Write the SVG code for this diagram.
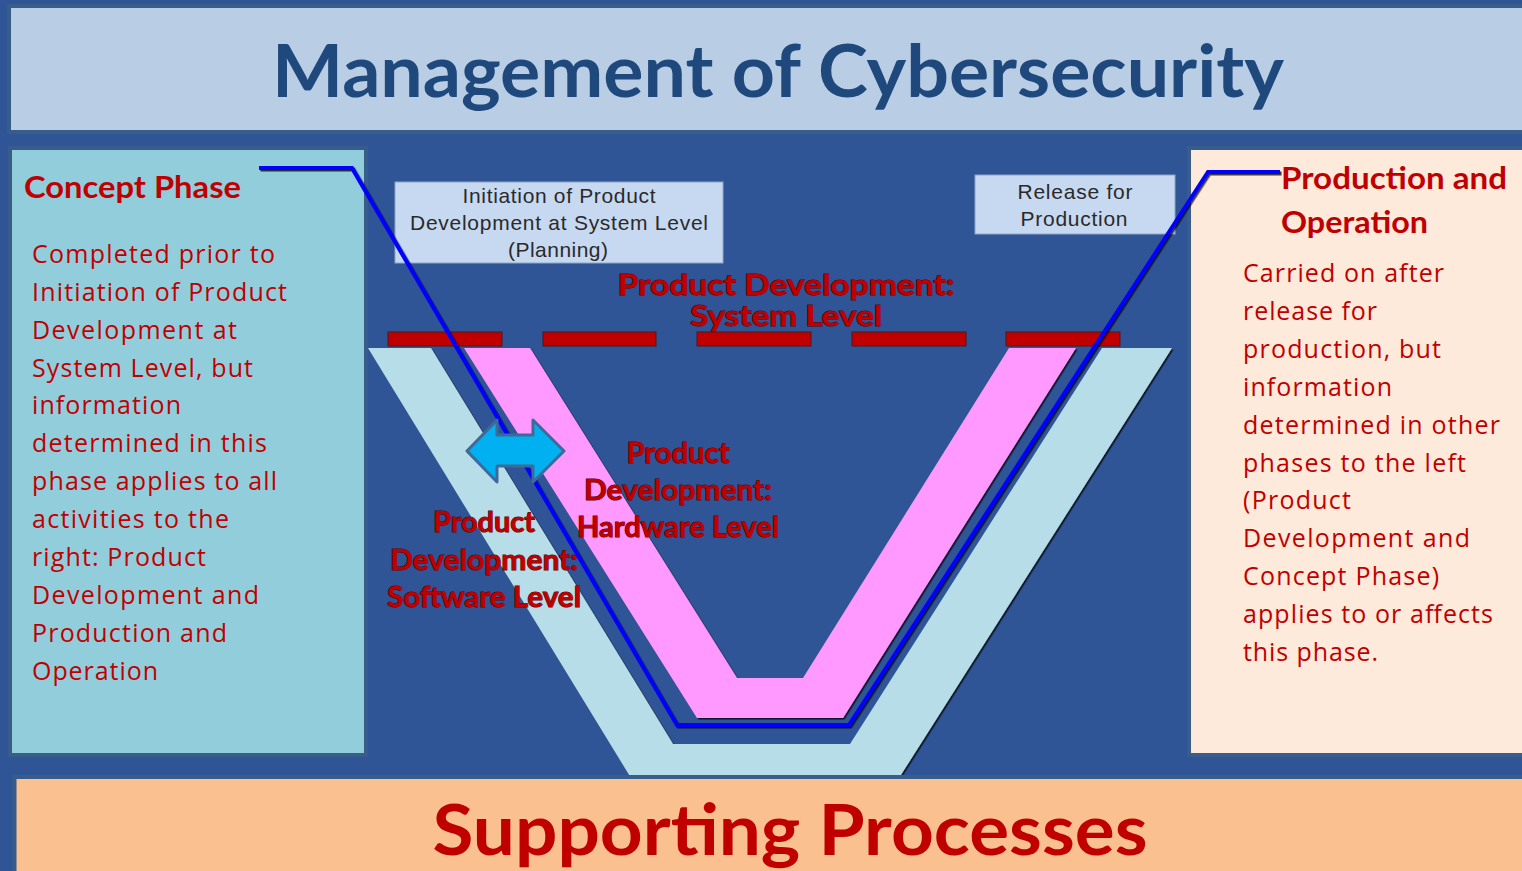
<svg xmlns="http://www.w3.org/2000/svg" width="1522" height="871" viewBox="0 0 1522 871">
  <defs>
    <style>
      .panel { stroke: #385D8A; stroke-width: 4; }
      .body { font-family: "Open Sans", "Noto Sans", sans-serif; font-size: 25px; fill: #C00000; }
      .head { font-family: Lato, "Open Sans", sans-serif; font-weight: 700; font-size: 30px; fill: #C00000; }
      .vlabel { font-family: Lato, "Open Sans", sans-serif; font-weight: 700; font-size: 28px; fill: #C00000; stroke: #5A0000; stroke-width: 1; paint-order: stroke; text-anchor: middle; }
      .boxtxt { font-family: "Liberation Sans", Arial, sans-serif; font-size: 21px; fill: #2A2A2A; text-anchor: middle; }
      .dash { fill: #C00000; stroke: #4A1A1A; stroke-width: 1; }
      .milestone { fill: #C6D9F1; stroke: #8FA6C4; stroke-width: 1; }
    </style>
    <filter id="shade" x="-5%" y="-5%" width="110%" height="110%">
      <feDropShadow dx="1.5" dy="1.5" stdDeviation="0.6" flood-color="#000000" flood-opacity="0.75"/>
    </filter>
  </defs>

  <!-- page background -->
  <rect x="0" y="0" width="1522" height="871" fill="#2F5597"/>

  <!-- title banner -->
  <g id="title">
    <rect class="panel" x="9" y="6" width="1520" height="126" fill="#B9CDE5"/>
    <text x="778" y="97" text-anchor="middle" textLength="1012" lengthAdjust="spacingAndGlyphs"
          font-family="Lato, 'Open Sans', sans-serif" font-weight="700" font-size="72" fill="#1F497D">Management of Cybersecurity</text>
  </g>

  <!-- concept phase panel -->
  <g id="concept-phase">
    <rect class="panel" x="10" y="148" width="356" height="607" fill="#92CDDC"/>
    <text class="head" x="24" y="198" textLength="217" lengthAdjust="spacingAndGlyphs">Concept Phase</text>
    <text class="body" x="32" y="263" textLength="243">Completed prior to</text>
    <text class="body" x="32" y="301" textLength="255">Initiation of Product</text>
    <text class="body" x="32" y="339" textLength="205">Development at</text>
    <text class="body" x="32" y="377" textLength="221">System Level, but</text>
    <text class="body" x="32" y="414" textLength="149">information</text>
    <text class="body" x="32" y="452" textLength="235">determined in this</text>
    <text class="body" x="32" y="490" textLength="245">phase applies to all</text>
    <text class="body" x="32" y="528" textLength="197">activities to the</text>
    <text class="body" x="32" y="566" textLength="174">right: Product</text>
    <text class="body" x="32" y="604" textLength="227">Development and</text>
    <text class="body" x="32" y="642" textLength="195">Production and</text>
    <text class="body" x="32" y="680" textLength="126">Operation</text>
  </g>

  <!-- production and operation panel -->
  <g id="production-operation">
    <rect class="panel" x="1189" y="148" width="340" height="607" fill="#FDEADA"/>
    <text class="head" x="1281" y="189" textLength="226" lengthAdjust="spacingAndGlyphs">Production and</text>
    <text class="head" x="1281" y="233" textLength="147" lengthAdjust="spacingAndGlyphs">Operation</text>
    <text class="body" x="1243" y="282" textLength="201">Carried on after</text>
    <text class="body" x="1243" y="320" textLength="134">release for</text>
    <text class="body" x="1243" y="358" textLength="198">production, but</text>
    <text class="body" x="1243" y="396" textLength="149">information</text>
    <text class="body" x="1243" y="434" textLength="257">determined in other</text>
    <text class="body" x="1243" y="472" textLength="223">phases to the left</text>
    <text class="body" x="1243" y="509" textLength="108">(Product</text>
    <text class="body" x="1243" y="547" textLength="227">Development and</text>
    <text class="body" x="1243" y="585" textLength="196">Concept Phase)</text>
    <text class="body" x="1243" y="623" textLength="250">applies to or affects</text>
    <text class="body" x="1243" y="661" textLength="135">this phase.</text>
  </g>

  <!-- software level V band -->
  <g id="software-level">
    <polygon points="368,348 431,348 673,744 850,744 1102,348 1172,348 899,778 631,778" fill="#B7DDE8" filter="url(#shade)"/>
    <text class="vlabel" x="484" y="532" textLength="102" lengthAdjust="spacingAndGlyphs">Product</text>
    <text class="vlabel" x="484" y="570" textLength="188" lengthAdjust="spacingAndGlyphs">Development:</text>
    <text class="vlabel" x="484" y="607" textLength="194" lengthAdjust="spacingAndGlyphs">Software Level</text>
  </g>

  <!-- hardware level V band -->
  <g id="hardware-level">
    <polygon points="464,348 530,348 737,678 803,678 1009,348 1076,348 843,718 697,718" fill="#FF99FF" filter="url(#shade)"/>
    <text class="vlabel" x="678" y="463" textLength="103" lengthAdjust="spacingAndGlyphs">Product</text>
    <text class="vlabel" x="678" y="500" textLength="188" lengthAdjust="spacingAndGlyphs">Development:</text>
    <text class="vlabel" x="678" y="537" textLength="202" lengthAdjust="spacingAndGlyphs">Hardware Level</text>
  </g>

  <!-- system level dashed bar -->
  <g id="system-level">
    <rect class="dash" x="388" y="332" width="114" height="14"/>
    <rect class="dash" x="543" y="332" width="113" height="14"/>
    <rect class="dash" x="697" y="332" width="114" height="14"/>
    <rect class="dash" x="852" y="332" width="114" height="14"/>
    <rect class="dash" x="1006" y="332" width="114" height="14"/>
    <text class="vlabel" x="786" y="295" textLength="337" lengthAdjust="spacingAndGlyphs">Product Development:</text>
    <text class="vlabel" x="786" y="326" textLength="192" lengthAdjust="spacingAndGlyphs">System Level</text>
  </g>

  <!-- milestone: initiation -->
  <g id="initiation">
    <rect class="milestone" x="395" y="182" width="328" height="81"/>
    <text class="boxtxt" x="559" y="203" textLength="193">Initiation of Product</text>
    <text class="boxtxt" x="559" y="230" textLength="298">Development at System Level</text>
    <text class="boxtxt" x="558" y="257" textLength="100">(Planning)</text>
  </g>

  <!-- milestone: release -->
  <g id="release">
    <rect class="milestone" x="975" y="175" width="200" height="59"/>
    <text class="boxtxt" x="1075" y="199" textLength="115">Release for</text>
    <text class="boxtxt" x="1074" y="226" textLength="107">Production</text>
  </g>

  <!-- phase boundary line -->
  <g id="connectors">
    <polyline points="259,168 352,168 677,725 849,725 1208,172 1280,172"
              fill="none" stroke="#0000FF" stroke-width="4" stroke-linejoin="miter" filter="url(#shade)"/>
  </g>

  <!-- hardware/software interface arrow -->
  <g id="hw-sw-interface">
    <polygon points="467,451 497,420 497,435 533,435 533,420 564,451 533,482 533,466 497,466 497,482"
             fill="#00B0F0" stroke="#3D6A97" stroke-width="3" stroke-linejoin="round"/>
  </g>

  <!-- supporting processes band -->
  <g id="supporting-processes">
    <rect class="panel" x="14.5" y="777" width="1520" height="100" fill="#FAC090"/>
    <text x="790" y="855" text-anchor="middle" textLength="715" lengthAdjust="spacingAndGlyphs"
          font-family="Lato, 'Open Sans', sans-serif" font-weight="700" font-size="70" fill="#C00000">Supporting Processes</text>
  </g>
</svg>
